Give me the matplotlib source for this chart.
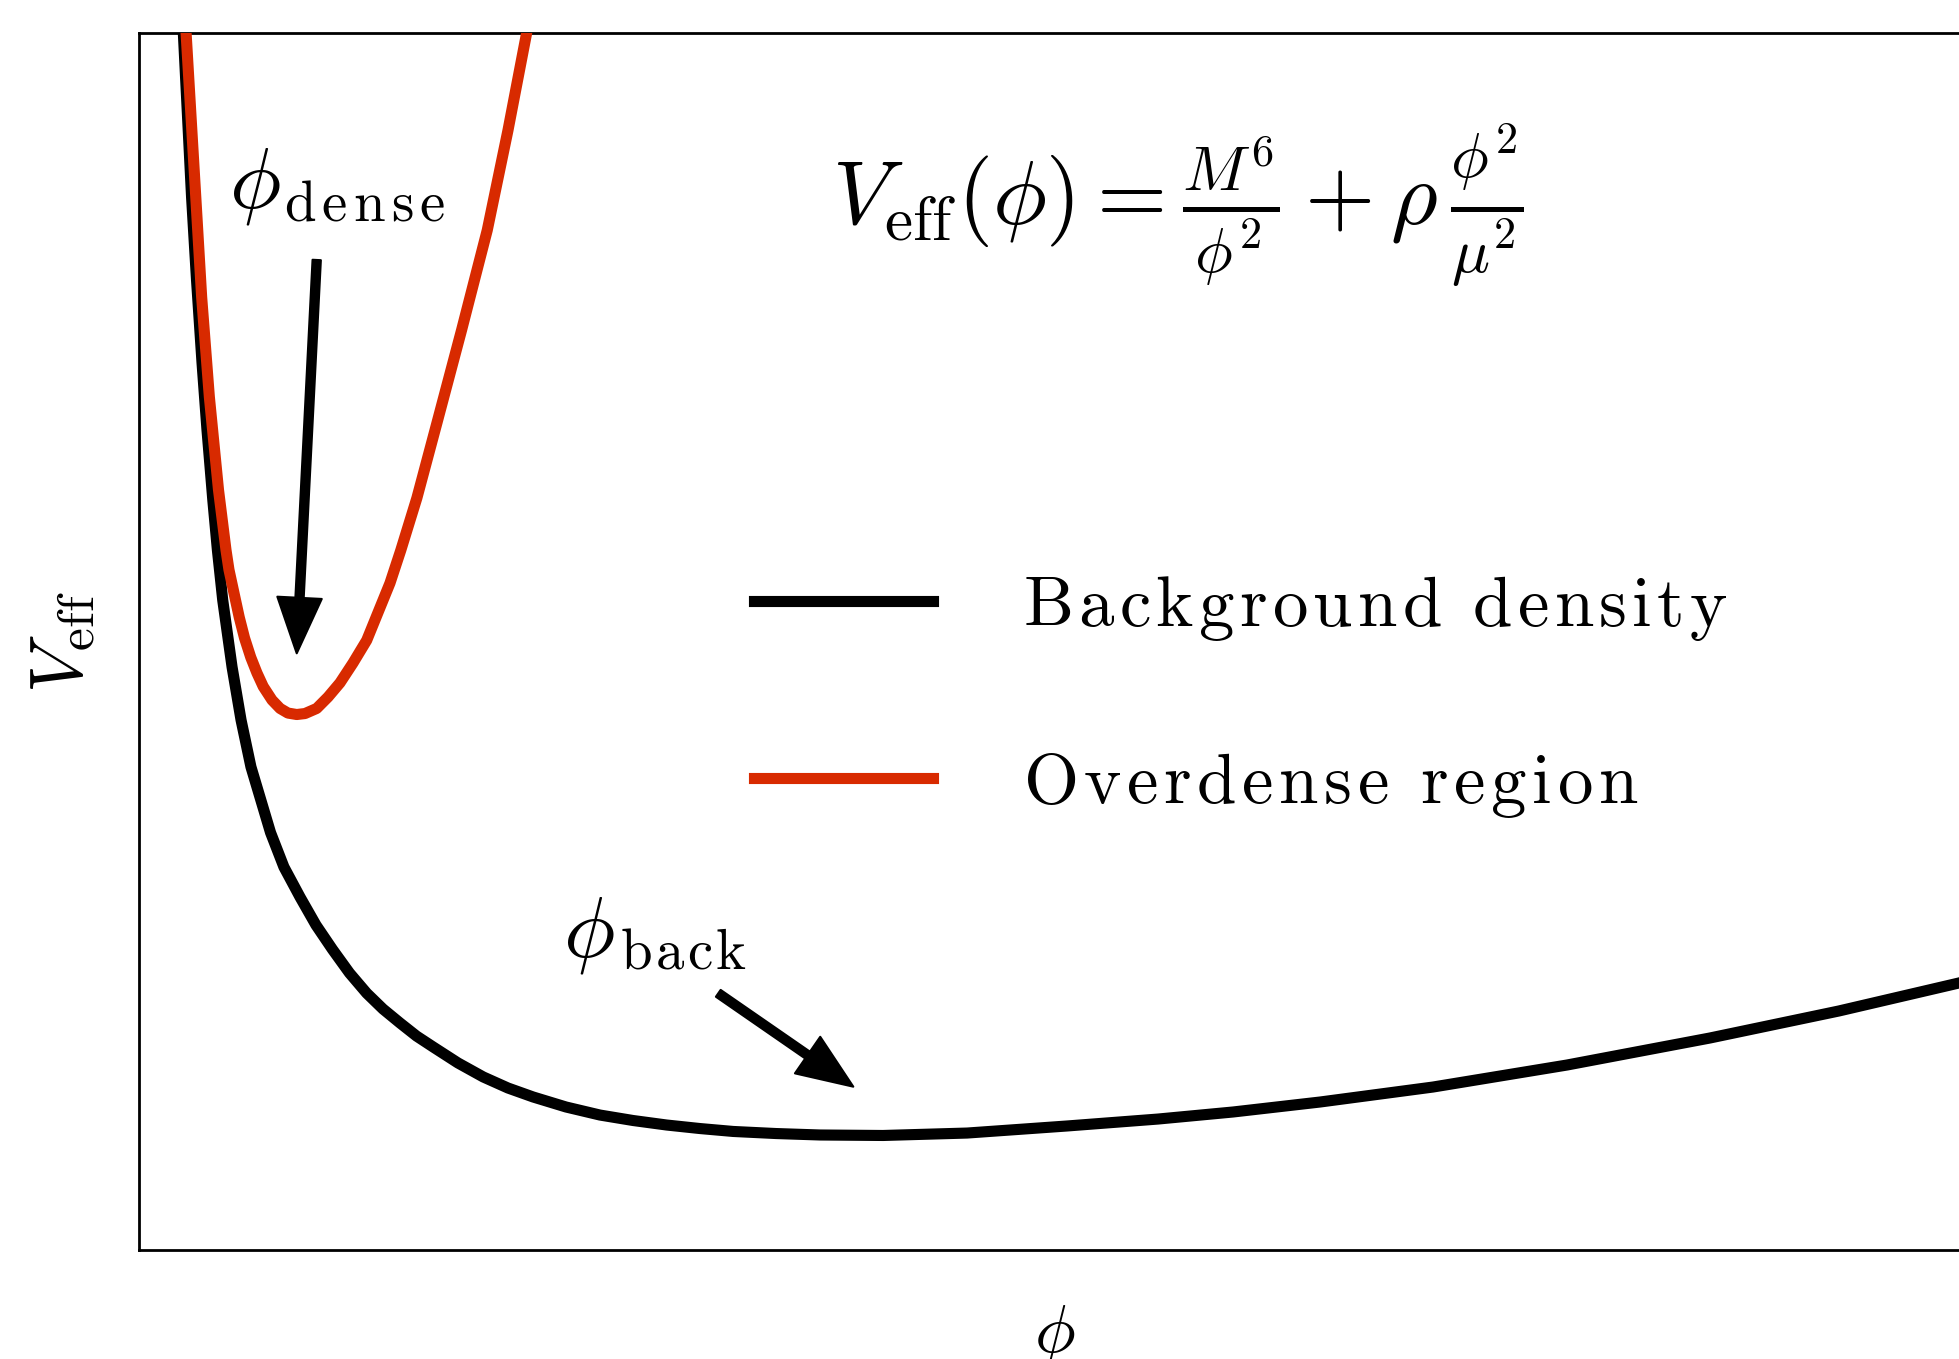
import matplotlib
matplotlib.use("Agg")
import matplotlib.pyplot as plt

plt.rcParams['mathtext.fontset'] = 'cm'
plt.rcParams['font.family'] = ['DejaVu Sans']

# ---- data (arbitrary units) ----
phi_back_curve = [0.235, 0.242, 0.287, 0.314, 0.344, 0.371, 0.403, 0.428, 0.457,
                  0.508, 0.557, 0.611, 0.718, 0.791, 0.879, 0.966, 1.056, 1.149,
                  1.243, 1.332, 1.425, 1.515, 1.606, 1.741, 1.879, 2.014, 2.152,
                  2.331, 2.516, 2.697, 2.880, 3.062, 3.244, 3.477, 3.717, 4.061,
                  4.520, 5.066, 5.562, 5.972, 6.447, 7.063, 7.795, 8.575, 9.279,
                  9.934, 10.10]
V_back_curve = [10.16, 10.00, 8.65, 7.97, 7.29, 6.74, 6.16, 5.75, 5.34,
                4.79, 4.355, 3.97, 3.43, 3.147, 2.90, 2.670, 2.47, 2.276,
                2.11, 1.980, 1.865, 1.758, 1.668, 1.537, 1.422, 1.331, 1.257,
                1.175, 1.109, 1.064, 1.027, 0.998, 0.974, 0.957, 0.945, 0.941,
                0.961, 1.019, 1.076, 1.134, 1.216, 1.339, 1.520, 1.742, 1.964,
                2.194, 2.26]

phi_dense_curve = [0.254, 0.257, 0.299, 0.342, 0.384, 0.434, 0.475, 0.491, 0.547,
                   0.576, 0.610, 0.644, 0.678, 0.726, 0.770, 0.813, 0.861, 0.906,
                   0.970, 1.032, 1.097, 1.168, 1.243, 1.370, 1.429, 1.517, 1.627,
                   1.761, 1.901, 2.014, 2.116, 2.137]
V_dense_curve = [10.16, 10.00, 8.93, 7.83, 7.01, 6.245, 5.75, 5.59, 5.20,
                 5.029, 4.87, 4.741, 4.63, 4.519, 4.45, 4.412, 4.40, 4.408,
                 4.45, 4.544, 4.66, 4.823, 5.01, 5.48, 5.75, 6.18, 6.80,
                 7.56, 8.38, 9.20, 10.00, 10.16]

series_labels = ["Background density", "Overdense region"]
series_colors = ["black", "#d82a00"]

phi_dense_min = (0.861, 4.903)   # arrow tip near the dense minimum
phi_back_min = (3.899, 1.342)    # arrow tip near the background minimum


def spaced(s, t, wrap=True):
    parts = [r'\ ' if ch == ' ' else ch for ch in s]
    body = r'\mathrm{' + (r'\hspace{%g}' % t).join(parts) + '}'
    return '$' + body + '$' if wrap else body


W, H = 1959, 1359
fig = plt.figure(figsize=(W / 100, H / 100), dpi=100)
ax = fig.add_axes([139 / W, 109 / H, 1832 / W, 1217 / H])
ax.set_xlim(0, 10)
ax.set_ylim(0, 10)

lw = 8
ax.plot(phi_back_curve, V_back_curve, color=series_colors[0], lw=lw,
        solid_joinstyle='round', label=spaced(series_labels[0], 0.085), zorder=3)
ax.plot(phi_dense_curve, V_dense_curve, color=series_colors[1], lw=lw,
        solid_joinstyle='round', label=spaced(series_labels[1], 0.09), zorder=4)

for s in ['left', 'bottom', 'top']:
    ax.spines[s].set_linewidth(2.0)
ax.spines['right'].set_visible(False)
ax.set_xticks([])
ax.set_yticks([])

ax.set_xlabel(r'$\phi$', fontsize=49)
ax.xaxis.set_label_coords(0.5, -0.043)
ax.set_ylabel(r'$V_{\mathrm{eff}}$', fontsize=53)
ax.yaxis.set_label_coords(-0.0224, 0.5)

# formula
ax.text(3.785, 8.42, r'$V_{\mathrm{eff}}(\phi) = \frac{M^6}{\phi^2} + \rho\,\frac{\phi^2}{\mu^2}$',
        fontsize=65, ha='left', va='baseline')

# annotations
aprops = dict(width=6, headwidth=32, headlength=40, facecolor='black',
              edgecolor='black', linewidth=1.5, joinstyle='round', shrink=0.0)
ax.annotate('', xy=phi_dense_min, xytext=(0.970, 8.135), arrowprops=aprops)
ax.annotate('', xy=phi_back_min, xytext=(3.162, 2.109), arrowprops=aprops)

# phi_dense label: symbol + spaced subscript
ax.text(0.491, 8.57, r'$\phi$', fontsize=62, ha='left', va='baseline')
ax.text(0.791, 8.463, spaced('dense', 0.125), fontsize=41, ha='left', va='baseline')
# phi_back label
ax.text(2.314, 2.414, r'$\phi$', fontsize=62, ha='left', va='baseline')
ax.text(2.626, 2.315, spaced('back', 0.07), fontsize=41, ha='left', va='baseline')

leg = ax.legend(loc='upper left', bbox_to_anchor=(754 / W, (H - 572) / H),
                bbox_transform=fig.transFigure, frameon=False, prop={'size': 51},
                handlelength=2.53, handletextpad=1.27, labelspacing=1.50,
                borderpad=0, borderaxespad=0)

fig.savefig('out.png', dpi=100)
